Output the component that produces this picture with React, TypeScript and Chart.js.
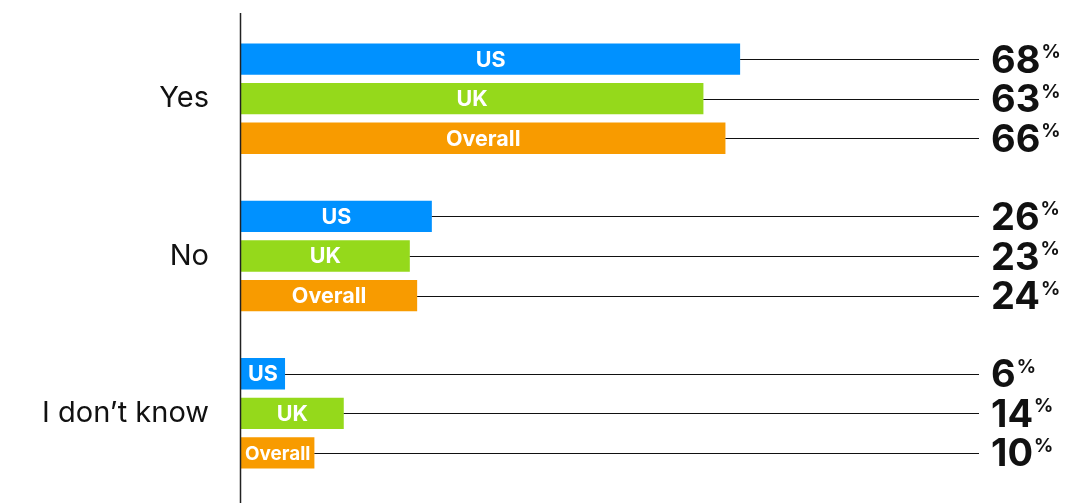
import { useEffect, useRef } from "react";
import { Chart, registerables } from "chart.js";

Chart.register(...registerables);

const categories = ["Yes", "No", "I don’t know"];
const seriesNames = ["US", "UK", "Overall"];
const usValues = [68, 26, 6];
const ukValues = [63, 23, 14];
const overallValues = [66, 24, 10];
const seriesColors = ["#0091FF", "#95D91B", "#F89B00"];

const W = 1087;
const H = 503;
const FONT = "Inter, 'Noto Sans', sans-serif";

const overlayPlugin = {
  id: "overlay",
  afterDatasetsDraw(chart: any) {
    const ctx = chart.ctx as CanvasRenderingContext2D;
    const area = chart.chartArea;
    chart.data.datasets.forEach((ds: any, di: number) => {
      const meta = chart.getDatasetMeta(di);
      meta.data.forEach((bar: any, i: number) => {
        const { x, y, base } = bar.getProps(["x", "y", "base"], true);
        const value = ds.data[i];
        ctx.save();
        // leader line
        ctx.strokeStyle = "#111";
        ctx.lineWidth = 1.2;
        ctx.beginPath();
        const ly = Math.round(y) + 0.5;
        ctx.moveTo(x, ly);
        ctx.lineTo(area.right + 4, ly);
        ctx.stroke();
        // inner label
        const name = ds.label as string;
        let size = 21.5;
        ctx.font = `700 ${size}px ${FONT}`;
        const w = ctx.measureText(name).width;
        const bw = x - base;
        if (w > bw - 8) {
          size = (size * (bw - 8)) / w;
          ctx.font = `700 ${size}px ${FONT}`;
        }
        ctx.fillStyle = "#ffffff";
        ctx.textAlign = "center";
        ctx.textBaseline = "middle";
        ctx.fillText(name, (x + base) / 2, y + 1);
        // value label
        const numSize = 38;
        ctx.font = `700 ${numSize}px ${FONT}`;
        ctx.fillStyle = "#111";
        ctx.textAlign = "left";
        ctx.textBaseline = "alphabetic";
        const vx = area.right + 16;
        const txt = String(value);
        ctx.fillText(txt, vx, y + 13.5);
        const tw = ctx.measureText(txt).width;
        ctx.font = `700 19px ${FONT}`;
        ctx.fillText("%", vx + tw + 1, y - 1);
        ctx.restore();
      });
    });
    // vertical axis line
    ctx.save();
    ctx.strokeStyle = "#222";
    ctx.lineWidth = 1.5;
    ctx.beginPath();
    ctx.moveTo(area.left - 0.5, 13);
    ctx.lineTo(area.left - 0.5, H);
    ctx.stroke();
    ctx.restore();
  },
};

export default function App() {
  const ref = useRef<HTMLCanvasElement | null>(null);

  useEffect(() => {
    document.body.style.margin = "0";
    let chart: Chart | null = null;
    let cancelled = false;
    const make = () => {
      if (cancelled || !ref.current) return;
      chart = new Chart(ref.current, {
        type: "bar",
        data: {
          labels: categories,
          datasets: [usValues, ukValues, overallValues].map((vals, k) => ({
            label: seriesNames[k],
            data: vals,
            backgroundColor: seriesColors[k],
            borderWidth: 0,
            categoryPercentage: 0.755,
            barPercentage: 0.79,
          })),
        },
        options: {
          indexAxis: "y",
          responsive: false,
          animation: false,
          devicePixelRatio: 1,
          layout: { padding: { top: 20, bottom: 11, left: 0, right: 112 } },
          plugins: { legend: { display: false }, tooltip: { enabled: false } },
          scales: {
            x: { type: "linear", min: 0, max: 100, display: false },
            y: {
              type: "category",
              grid: { display: false, drawTicks: false },
              border: { display: false },
              ticks: {
                font: { family: FONT, size: 29, weight: "400" as any },
                color: "#111",
                padding: 32,
              },
              afterFit(scale: any) {
                scale.width = 241;
                scale.paddingTop = 0;
                scale.paddingBottom = 0;
              },
            },
          },
        } as any,
        plugins: [overlayPlugin],
      });
    };
    const loads = (document as any).fonts
      ? Promise.all([
          (document as any).fonts.load(`700 20px Inter`),
          (document as any).fonts.load(`400 28px Inter`),
        ]).catch(() => null)
      : Promise.resolve(null);
    loads.then(make);
    return () => {
      cancelled = true;
      if (chart) chart.destroy();
    };
  }, []);

  return (
    <div style={{ width: W, height: H }}>
      <canvas ref={ref} width={W} height={H} style={{ display: "block" }} />
    </div>
  );
}
